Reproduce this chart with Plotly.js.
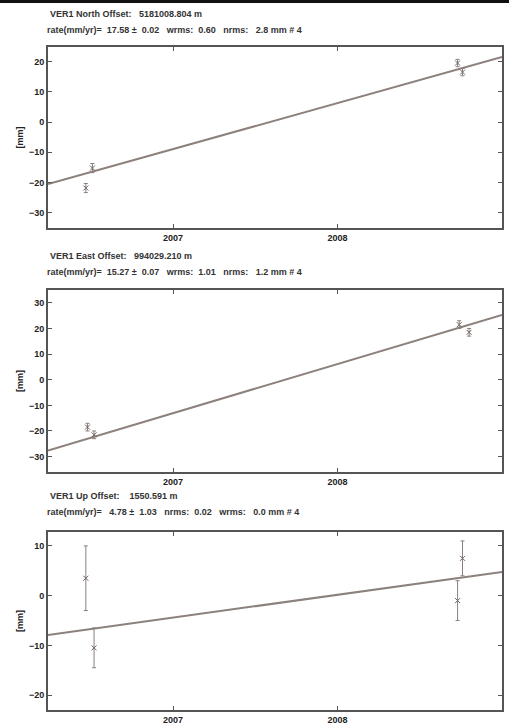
<!DOCTYPE html>
<html><head><meta charset="utf-8">
<script src="https://cdn.plot.ly/plotly-3.0.1.min.js"></script>
<style>html,body{margin:0;padding:0;background:#fff;}#c{width:509px;height:724px;}</style>
</head><body><div id="c"></div>
<script>
// ---- data ----
const northYears = [2006.51, 2006.47, 2008.73, 2008.76];
const northVals  = [-15.2, -21.8, 19.5, 16.5];
const northErr   = [1.5, 1.5, 1.2, 1.2];
const northLineX = [2006.24, 2009.0];
const northLineY = [-20.5, 21.5];

const eastYears = [2006.48, 2006.52, 2008.74, 2008.80];
const eastVals  = [-18.5, -21.5, 21.5, 18.5];
const eastErr   = [1.5, 1.5, 1.5, 1.5];
const eastLineX = [2006.24, 2009.0];
const eastLineY = [-27.6, 25.3];

const upYears = [2006.47, 2006.52, 2008.76, 2008.73];
const upVals  = [3.5, -10.5, 7.5, -1.0];
const upErr   = [6.5, 4.0, 3.5, 4.0];
const upLineX = [2006.24, 2009.0];
const upLineY = [-7.9, 4.75];

const titles1 = ["VER1 North Offset:   5181008.804 m", "VER1 East Offset:   994029.210 m", "VER1 Up Offset:    1550.591 m"];
const titles2 = ["rate(mm/yr)=  17.58 \u00b1  0.02   wrms:  0.60   nrms:   2.8 mm # 4",
                 "rate(mm/yr)=  15.27 \u00b1  0.07   wrms:  1.01   nrms:   1.2 mm # 4",
                 "rate(mm/yr)=   4.78 \u00b1  1.03   nrms:  0.02   wrms:   0.0 mm # 4"];
const xTickVals = [2007, 2008];
const xTickText = ["2007", "2008"];
const nTicks = [20, 10, 0, -10, -20, -30];
const eTicks = [30, 20, 10, 0, -10, -20, -30];
const uTicks = [10, 0, -10, -20];

// ---- styling ----
const lineCol = '#8c817c';
const axCol = '#555';
const txtCol = '#333';
const fnt = {family: 'Liberation Sans, Arial, sans-serif', size: 9, color: txtCol};
const tfnt = {family: 'Liberation Sans, Arial, sans-serif', size: 9, color: '#222', weight: 'bold'};

function pts(x, y, e, xa, ya) {
  return {x: x, y: y, xaxis: xa, yaxis: ya, type: 'scatter', mode: 'markers',
    marker: {symbol: 'x-thin-open', size: 5, color: '#6e6460', line: {width: 1, color: '#6e6460'}},
    error_y: {type: 'data', array: e, visible: true, color: '#8a7f7a', thickness: 1, width: 2},
    showlegend: false, hoverinfo: 'skip'};
}
function fit(x, y, xa, ya) {
  return {x: x, y: y, xaxis: xa, yaxis: ya, type: 'scatter', mode: 'lines',
    line: {color: lineCol, width: 2}, showlegend: false, hoverinfo: 'skip'};
}
const data = [
  fit(northLineX, northLineY, 'x', 'y'), pts(northYears, northVals, northErr, 'x', 'y'),
  fit(eastLineX, eastLineY, 'x2', 'y2'), pts(eastYears, eastVals, eastErr, 'x2', 'y2'),
  fit(upLineX, upLineY, 'x3', 'y3'), pts(upYears, upVals, upErr, 'x3', 'y3')
];

function xax(anchor) {
  return {anchor: anchor, range: [2006.24, 2009.0], tickvals: xTickVals, ticktext: xTickText,
    ticks: 'inside', ticklen: 4, tickcolor: axCol, mirror: 'ticks', showline: true, linecolor: axCol,
    linewidth: 2, showgrid: false, zeroline: false, tickfont: tfnt, fixedrange: true};
}
function yax(anchor, dom, rng, tv) {
  return {anchor: anchor, domain: dom, range: rng, tickvals: tv,
    ticks: 'inside', ticklen: 4, tickcolor: axCol, mirror: 'ticks', showline: true, linecolor: axCol,
    linewidth: 2, showgrid: false, zeroline: false, tickfont: tfnt,
    title: {text: '[mm]', font: tfnt, standoff: 4}, fixedrange: true};
}
const B = 710, H = B - 47;
function py(p) { return (B - p) / H; }
const ann = [];
const t1y = [14, 256, 496], t2y = [30, 272, 512];
for (let i = 0; i < 3; i++) {
  ann.push({text: '<b>' + titles1[i] + '</b>', xref: 'paper', yref: 'paper', x: 0, y: py(t1y[i]),
    xanchor: 'left', yanchor: 'middle', showarrow: false, font: fnt});
  ann.push({text: '<b>' + titles2[i] + '</b>', xref: 'paper', yref: 'paper', x: -0.007, y: py(t2y[i]),
    xanchor: 'left', yanchor: 'middle', showarrow: false, font: fnt});
}
const layout = {
  width: 509, height: 724, paper_bgcolor: '#fff', plot_bgcolor: '#fff',
  margin: {l: 48, r: 7, t: 47, b: 724 - B},
  font: fnt,
  xaxis: xax('y'), xaxis2: xax('y2'), xaxis3: xax('y3'),
  yaxis: yax('x', [py(228), 1], [-35, 24.8], nTicks),
  yaxis2: yax('x2', [py(472), py(290)], [-36, 35], eTicks),
  yaxis3: yax('x3', [0, py(532)], [-23, 12.8], uTicks),
  annotations: ann,
  shapes: [{type: 'rect', xref: 'paper', yref: 'paper', x0: -0.106, x1: 1.02, y0: py(3), y1: py(0),
    fillcolor: '#111', line: {width: 0}}]
};
Plotly.newPlot('c', data, layout, {staticPlot: true});
</script></body></html>
